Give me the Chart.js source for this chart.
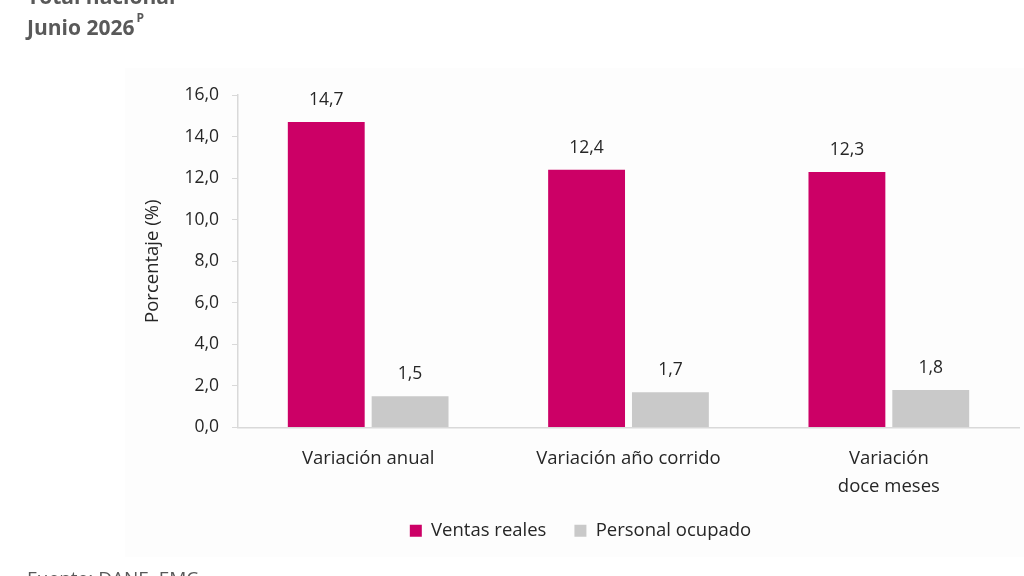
<!DOCTYPE html>
<html>
<head>
<meta charset="utf-8">
<script src="https://cdn.jsdelivr.net/npm/chart.js@4"></script>
<style>
  html, body { margin: 0; padding: 0; background: #fff; }
  #wrap { width: 1024px; height: 576px; position: relative; }
</style>
</head>
<body>
<div id="wrap"><canvas id="chart" width="1024" height="576"></canvas></div>
<script>
const categories = ["Variación anual", "Variación año corrido", ["Variación", "doce meses"]];
const ventasReales = [14.7, 12.4, 12.3];
const personalOcupado = [1.5, 1.7, 1.8];
const yTicks = [0, 2, 4, 6, 8, 10, 12, 14, 16];

const FONT = "'Open Sans', 'Noto Sans', sans-serif";
const TEXT = "#262626";

const fmt = (v) => v.toFixed(1).replace(".", ",");

// panel, titles and source note
const decor = {
  id: "decor",
  beforeDraw(chart) {
    const ctx = chart.ctx;
    ctx.save();
    ctx.fillStyle = "#fdfdfd";
    ctx.fillRect(125, 68, 899, 489);
    ctx.fillStyle = "#595959";
    ctx.font = "bold 21px " + FONT;
    ctx.textBaseline = "alphabetic";
    ctx.fillText("Total nacional", 27, 4);
    ctx.fillText("Junio 2026", 27, 35);
    const w = ctx.measureText("Junio 2026").width;
    ctx.font = "bold 12px " + FONT;
    ctx.fillText("P", 27 + w + 2, 22);
    ctx.font = "19px " + FONT;
    ctx.textBaseline = "top";
    ctx.fillText("Fuente: DANE, EMC", 27, 570);
    ctx.restore();
  },
  afterDatasetsDraw(chart) {
    const ctx = chart.ctx;
    ctx.save();
    ctx.fillStyle = TEXT;
    ctx.font = "17.5px " + FONT;
    ctx.textAlign = "center";
    ctx.textBaseline = "middle";
    chart.data.datasets.forEach((ds, i) => {
      chart.getDatasetMeta(i).data.forEach((bar, j) => {
        ctx.fillText(fmt(ds.data[j]), bar.x, bar.y - 22);
      });
    });
    ctx.restore();
  }
};

new Chart(document.getElementById("chart"), {
  type: "bar",
  data: {
    labels: categories,
    datasets: [
      {
        label: "Ventas reales",
        data: ventasReales,
        backgroundColor: "#cc0066",
        barPercentage: 0.917,
        categoryPercentage: 0.644
      },
      {
        label: "Personal ocupado",
        data: personalOcupado,
        backgroundColor: "#c9c9c9",
        barPercentage: 0.917,
        categoryPercentage: 0.644
      }
    ]
  },
  options: {
    responsive: false,
    animation: false,
    layout: { padding: { left: 142, right: 5, top: 95, bottom: 26 } },
    plugins: {
      legend: {
        position: "bottom",
        labels: {
          font: { family: FONT, size: 18.5 },
          color: TEXT,
          boxWidth: 12,
          boxHeight: 12,
          padding: 28
        }
      },
      tooltip: { enabled: false }
    },
    scales: {
      x: {
        grid: { display: false, drawTicks: false },
        border: { color: "#d9d9d9", width: 1.5 },
        ticks: {
          font: { family: FONT, size: 18.5, lineHeight: 1.51 },
          color: TEXT,
          padding: 17,
          maxRotation: 0
        },
        afterFit(scale) { scale.height = 66; }
      },
      y: {
        min: 0,
        max: 16,
        afterBuildTicks(scale) { scale.ticks = yTicks.map(v => ({ value: v })); },
        grid: { display: true, drawOnChartArea: false, tickLength: 6, color: "#d9d9d9" },
        border: { color: "#d9d9d9", width: 1.5 },
        ticks: {
          font: { family: FONT, size: 17.5 },
          color: TEXT,
          padding: 13,
          callback: (v) => fmt(v)
        },
        title: {
          display: true,
          text: "Porcentaje (%)",
          font: { family: FONT, size: 18.5 },
          color: TEXT,
          padding: 0
        },
        afterFit(scale) { scale.width = 96; }
      }
    }
  },
  plugins: [decor]
});
</script>
</body>
</html>
